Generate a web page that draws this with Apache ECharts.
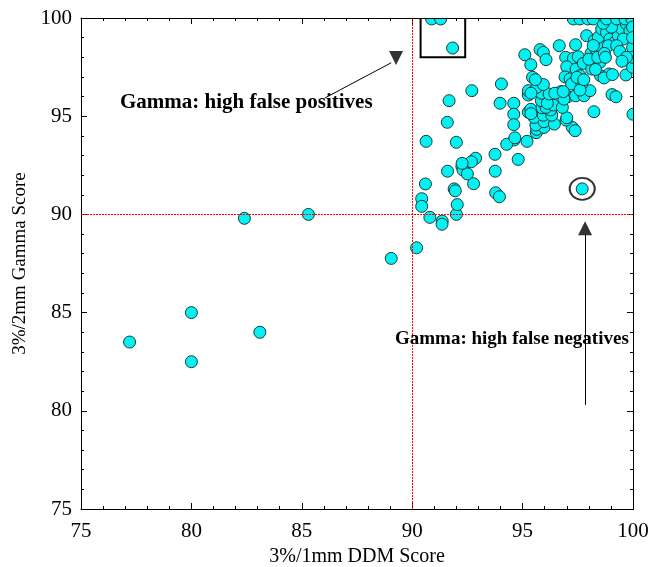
<!DOCTYPE html>
<html>
<head>
<meta charset="utf-8">
<script src="https://cdn.jsdelivr.net/npm/echarts@6/dist/echarts.min.js"></script>
<style>
  html, body { margin: 0; padding: 0; background: #fff; }
  #chart { width: 651px; height: 567px; }
</style>
</head>
<body>
<div id="chart"></div>
<script>
// DDM score (x) vs gamma score (y) for each measured plan
const ddmScore = [
  77.2, 80.0, 80.0, 82.4, 85.3, 83.1, 89.05, 90.2,
  90.6, 90.43, 90.43, 90.8, 91.36, 91.35, 92.0, 92.04, 91.9, 91.95, 91.6, 92.25, 92.3, 92.5, 92.78, 93.76, 93.78, 93.95,
  91.67, 91.59, 90.63, 92.0, 92.7, 93.98, 94.6, 94.6, 94.6, 94.62, 94.28, 93.75, 92.87, 92.68, 92.26, 94.8, 94.65,
  90.88, 91.29, 91.83, 94.04, 97.7,
  95.2, 95.62, 95.64, 95.97, 95.6, 95.97, 96.44, 97.25, 96.97, 95.52, 95.94, 96.32, 97.0, 95.26, 95.37, 95.88, 96.27,
  96.06, 96.39, 96.8, 98.23, 99.05, 100.0, 95.85, 96.12, 95.86, 96.2, 95.26, 97.04, 97.4, 97.78, 98.05, 96.73, 95.26,
  97.38, 99.23, 96.87,
  95.1, 95.37, 95.79, 95.94, 96.06, 96.66, 97.4, 96.95, 97.3, 97.52, 97.0, 97.42, 97.75, 98.13, 96.92, 97.15, 97.6,
  97.22, 97.68, 97.6, 95.45, 95.64, 95.94, 98.53, 98.91, 99.68, 99.98, 97.9, 98.1, 98.32, 98.5, 98.58, 98.25, 98.43,
  98.58, 98.8, 98.95, 99.18, 99.33, 99.49, 99.7, 99.86, 99.56, 98.88, 99.26, 99.03, 98.65,
  97.3, 97.6, 97.96, 98.2, 98.8, 99.26, 99.64, 99.95,
  99.98, 99.98, 99.98, 99.98,
  95.38, 95.58, 95.38, 96.46, 96.84, 98.3, 98.69, 99.07, 97.46, 97.77,
  98.0, 98.4, 98.7, 98.2, 98.75, 99.4, 99.7, 99.5
];
const gammaScore = [
  83.5, 85.0, 82.5, 89.8, 90.0, 84.0, 87.76, 88.3,
  91.55, 90.8, 90.41, 89.85, 89.66, 89.5, 90.0, 90.5, 91.3, 91.2, 92.2, 92.45, 92.26, 92.06, 91.56, 92.2, 91.1, 90.9,
  95.79, 94.69, 93.72, 93.67, 96.3, 95.66, 95.66, 95.1, 94.57, 93.79, 93.57, 93.06, 92.86, 92.68, 92.6, 92.8, 93.9,
  99.95, 99.95, 98.47, 96.64, 91.3,
  93.72, 94.16, 94.33, 94.43, 94.55, 94.72, 94.6, 94.43, 94.8, 94.94, 95.05, 95.05, 94.92, 95.2, 95.35, 95.43, 95.32,
  95.45, 95.57, 95.45, 95.23, 96.1, 95.1, 95.79, 95.66, 96.17, 96.13, 96.08, 95.99, 96.04, 96.04, 96.3, 96.25, 96.3,
  94.26, 95.99, 95.87,
  98.13, 97.62, 98.39, 98.25, 97.88, 98.59, 98.64, 98.0, 97.95, 98.03, 97.52, 97.4, 97.69, 97.4, 97.0, 96.9, 97.06,
  96.64, 96.64, 96.33, 96.98, 96.47, 96.61, 97.06, 97.15, 97.1, 97.49, 99.1, 98.2, 98.42, 97.74, 98.5, 98.85, 99.02,
  99.44, 99.27, 98.93, 98.76, 99.1, 99.44, 99.7, 99.35, 98.93, 98.59, 98.59, 99.53, 99.73,
  99.95, 99.95, 99.95, 99.95, 99.95, 99.95, 99.95, 99.95,
  99.53, 98.5, 98.0, 99.0,
  95.13, 96.86, 96.17, 96.17, 96.25, 97.38, 96.95, 97.12, 96.98, 96.86,
  97.9, 98.0, 98.2, 98.6, 98.0, 98.3, 98.0, 97.8
];

// Axis range and tick labels
const axisMin = 75;
const axisMax = 100;
const majorStep = 5;
const tickLabels = ['75', '80', '85', '90', '95', '100'];

// Pass thresholds
const threshold = 90;

// Annotations (data coordinates)
const fpBox = [[90.38, 100], [92.4, 98.0]];
const fnPoint = [97.7, 91.3];
const fpArrowLine = [[86.05, 95.93], [89.05, 97.72]];
const fpArrowHead = [89.27, 97.96];
const fnArrowLine = [[97.83, 80.3], [97.83, 89.0]];
const fnArrowHead = [97.83, 89.3];
const fpText = 'Gamma: high false positives';
const fnText = 'Gamma: high false negatives';
const xTitle = '3%/1mm DDM Score';
const yTitle = '3%/2mm Gamma Score';

const points = ddmScore.map((x, i) => [x, gammaScore[i]]);

const serif = '"Liberation Serif", "Times New Roman", serif';

const GRID = { left: 81, right: 18, top: 18, bottom: 58 };
const W = 651, H = 567;
const MARK = 12;

function axisBase(extra) {
  return Object.assign({
    type: 'value',
    min: axisMin,
    max: axisMax,
    interval: majorStep,
    axisLine: { show: true, onZero: false, lineStyle: { color: '#000', width: 1 } },
    axisTick: { show: true, inside: true, length: 6, lineStyle: { color: '#000' } },
    minorTick: { show: true, splitNumber: 5, length: 3, lineStyle: { color: '#000' } },
    splitLine: { show: false },
    minorSplitLine: { show: false }
  }, extra);
}

const labelFmt = v => tickLabels[Math.round((v - axisMin) / majorStep)] || '';

const chart = echarts.init(document.getElementById('chart'), null, { renderer: 'canvas' });

const gx0 = GRID.left, gy0 = GRID.top, gx1 = W - GRID.right, gy1 = H - GRID.bottom;
const spill = MARK / 2 + 2;

chart.setOption({
  animation: false,
  backgroundColor: '#fff',
  grid: Object.assign({ containLabel: false, outerBoundsMode: 'none' }, GRID),
  xAxis: [
    axisBase({
      position: 'bottom',
      name: xTitle,
      nameLocation: 'middle',
      nameGap: 33,
      nameTextStyle: { fontFamily: serif, fontSize: 20, color: '#000' },
      axisLabel: { fontFamily: serif, fontSize: 21, color: '#000', margin: 12, formatter: labelFmt }
    }),
    axisBase({ position: 'top', axisLabel: { show: false } })
  ],
  yAxis: [
    axisBase({
      position: 'left',
      name: yTitle,
      nameLocation: 'middle',
      nameGap: 51,
      nameTextStyle: { fontFamily: serif, fontSize: 19, color: '#000' },
      axisLabel: { fontFamily: serif, fontSize: 21, color: '#000', margin: 9, formatter: labelFmt }
    }),
    axisBase({ position: 'right', axisLabel: { show: false } })
  ],
  series: [
    {
      // threshold guide lines
      type: 'line',
      data: [],
      silent: true,
      z: 1,
      markLine: {
        symbol: 'none',
        silent: true,
        label: { show: false },
        lineStyle: { color: '#ff0000', type: [2, 1], width: 1 },
        data: [
          [{ coord: [threshold, axisMin] }, { coord: [threshold, axisMax] }],
          [{ coord: [axisMin, threshold] }, { coord: [axisMax, threshold] }]
        ]
      }
    },
    {
      type: 'scatter',
      data: points,
      symbol: 'circle',
      symbolSize: MARK,
      z: 3,
      itemStyle: { color: '#00F2F2', borderColor: '#1b3b3b', borderWidth: 1, opacity: 1 }
    },
    {
      // annotation box, arrows
      type: 'line',
      data: [],
      silent: true,
      z: 4,
      markArea: {
        silent: true,
        itemStyle: { color: 'rgba(0,0,0,0)', borderColor: '#000', borderWidth: 2 },
        data: [[{ coord: fpBox[0] }, { coord: fpBox[1] }]]
      },
      markLine: {
        symbol: 'none',
        silent: true,
        label: { show: false },
        lineStyle: { color: '#000', type: 'solid', width: 1 },
        data: [
          [{ coord: fpArrowLine[0] }, { coord: fpArrowLine[1] }],
          [{ coord: fnArrowLine[0] }, { coord: fnArrowLine[1] }]
        ]
      }
    },
    {
      // arrow heads
      type: 'scatter',
      silent: true,
      z: 5,
      symbol: 'triangle',
      symbolSize: [14, 14],
      itemStyle: { color: '#000' },
      data: [
        { value: fpArrowHead, symbolRotate: 180 },
        { value: fnArrowHead, symbolRotate: 0 }
      ]
    },
    {
      // ring around the false-negative case
      type: 'scatter',
      silent: true,
      z: 5,
      symbol: 'circle',
      symbolSize: [25, 22],
      itemStyle: { color: 'rgba(0,0,0,0)', borderColor: '#000', borderWidth: 2 },
      data: [fnPoint]
    }
  ],
  graphic: [
    // trim marker parts that spill over the top and right frame edges
    { type: 'rect', z: 8, silent: true, shape: { x: gx0 + 1, y: gy0 - spill, width: gx1 - gx0 + spill, height: spill }, style: { fill: '#fff' } },
    { type: 'rect', z: 8, silent: true, shape: { x: gx1 + 1, y: gy0 - spill, width: spill, height: gy1 - gy0 + spill - 1 }, style: { fill: '#fff' } },
    // frame edges redrawn over the markers
    { type: 'line', z: 9, silent: true, shape: { x1: gx0, y1: gy0 + 0.5, x2: gx1 + 1, y2: gy0 + 0.5 }, style: { stroke: '#000', lineWidth: 1 } },
    { type: 'line', z: 9, silent: true, shape: { x1: gx1 + 0.5, y1: gy0, x2: gx1 + 0.5, y2: gy1 + 1 }, style: { stroke: '#000', lineWidth: 1 } },
    {
      type: 'text',
      left: 120,
      top: 92,
      z: 12,
      style: { text: fpText, fontFamily: serif, fontSize: 21, fontWeight: 'bold', fill: '#000' }
    },
    {
      type: 'text',
      left: 395,
      top: 330,
      z: 12,
      style: { text: fnText, fontFamily: serif, fontSize: 19, fontWeight: 'bold', fill: '#000' }
    }
  ]
});
</script>
</body>
</html>
